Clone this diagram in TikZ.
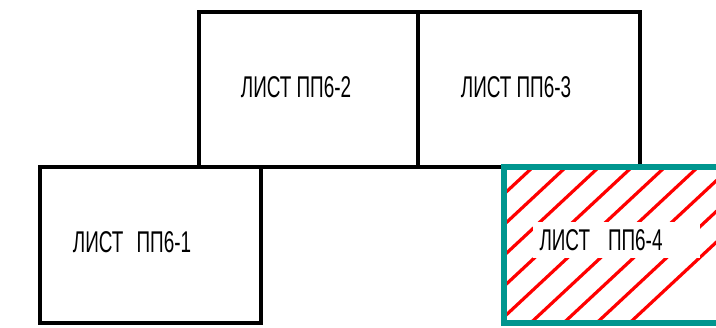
\documentclass[tikz,border=0pt]{standalone}
\usepackage{fontspec}
\newfontfamily\gostfont[FakeStretch=0.63]{Liberation Sans}
\definecolor{sheetteal}{RGB}{0,150,143}
\definecolor{hatchred}{RGB}{255,0,0}
\usetikzlibrary{positioning}

\tikzset{
  sheet/.style={draw=black, line width=4pt},
  selsheet/.style={draw=sheetteal, line width=5.5pt},
  hatchline/.style={draw=hatchred, line width=3.2pt, line cap=round},
  sheetlabel/.style={font=\gostfont\fontsize{30}{30}\selectfont, inner sep=0pt}
}

\begin{document}
\begin{tikzpicture}[x=1pt, y=-1pt]
  \useasboundingbox (0,0) rectangle (716,328);

  % Sheet outlines
  \draw[sheet] (199,12) rectangle (418,167);
  \draw[sheet] (418,12) rectangle (640,167);
  \draw[sheet] (40,167) rectangle (261,323);

  % Selected sheet: hatching
  \begin{scope}
    \clip (504,167) rectangle (716,323);
    \foreach \k in {-6,...,8}
      \draw[hatchline] (533+33*\k,167) -- ++(-220,205);
  \end{scope}
  \begin{scope}
    \clip (0,0) rectangle (716,328);
    \draw[selsheet] (504,167) rectangle (730,323);
  \end{scope}

  % Labels
  \node[sheetlabel] (pp2) at (296,87) {ЛИСТ ПП6-2};
  \node[sheetlabel] (pp3) at (516,87) {ЛИСТ ПП6-3};
  \node[sheetlabel] (pp1) at (132,242) {ЛИСТ\hspace{8pt} ПП6-1};
  \node[sheetlabel, fill=white, inner xsep=7pt, text width=153pt, align=left,
        minimum height=36pt] (pp4) at (616,240) {ЛИСТ\hspace{8pt} ПП6-4};
\end{tikzpicture}
\end{document}
